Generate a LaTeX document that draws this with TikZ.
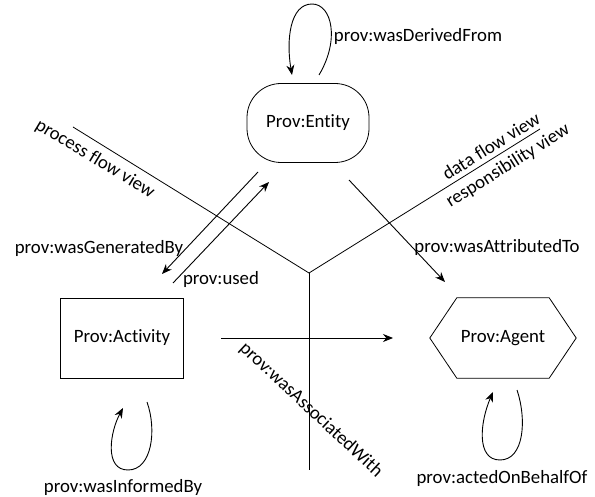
\documentclass[tikz,border=0pt]{standalone}
\usepackage{fontspec}
\setmainfont{Carlito}[Ligatures={NoCommon}]
\usetikzlibrary{arrows.meta,calc}
\begin{document}
\begin{tikzpicture}[x=1pt,y=-1pt,
  lbl/.style={font=\fontsize{18.8}{21}\selectfont, inner sep=0pt},
  arr/.style={line width=0.9pt,-{Stealth[length=10pt,width=8pt]}},
  ln/.style={line width=0.8pt},
  box/.style={draw, line width=0.8pt, lbl}]
\useasboundingbox (0,0) rectangle (595,497);
% nodes
\node[box, rounded corners=34pt, minimum width=122pt, minimum height=79pt] (entity) at (308,123) {Prov:Entity};
\node[box, minimum width=123pt, minimum height=80pt] (activity) at (122,338) {Prov:Activity};
\node[lbl, minimum width=146pt, minimum height=80pt] (agent) at (503,338) {Prov:Agent};
\draw[ln] (agent.west) -- ([xshift=27pt]agent.north west) -- ([xshift=-27pt]agent.north east)
  -- (agent.east) -- ([xshift=-27pt]agent.south east) -- ([xshift=27pt]agent.south west) -- cycle;
% view lines
\coordinate (j) at (309,273);
\coordinate (pf) at (73,127);
\coordinate (df) at (540,129);
\coordinate (vb) at (309,470);
\draw[ln] (pf) -- (j) -- (df);
\draw[ln] (j) -- (vb);
% arrows
\coordinate (gens) at (258,172); \coordinate (gene) at (162,274);
\coordinate (useds) at (173,283); \coordinate (usede) at (269,182);
\coordinate (attrs) at (349,180); \coordinate (attre) at (445,282);
\coordinate (assocs) at (221,338); \coordinate (assoce) at (393,338);
\draw[arr] (gens) -- (gene);
\draw[arr] (useds) -- (usede);
\draw[arr] (attrs) -- (attre);
\draw[arr] (assocs) -- (assoce);
% self loops
\coordinate (els) at (319,75); \coordinate (ele) at (292,75);
\draw[arr] (els) .. controls (340,40) and (332,4) .. (312,4) .. controls (290,4) and (286,40) .. (ele);
\coordinate (als) at (147,402); \coordinate (ale) at (123,408);
\draw[arr] (als) .. controls (157,430) and (152,470) .. (128,470) .. controls (104,470) and (110,432) .. (ale);
\coordinate (gls) at (517,390); \coordinate (gle) at (493,392);
\draw[arr] (gls) .. controls (527,420) and (524,460) .. (500,460) .. controls (476,460) and (480,422) .. (gle);
% labels
\node[lbl] (lderived) at (418,36) {prov:wasDerivedFrom};
\node[lbl, rotate=-31] (lprocess) at (95,159) {process flow view};
\node[lbl, rotate=32] (ldata) at (491,146) {data flow view};
\node[lbl, rotate=32] (lresp) at (508,166) {responsibility view};
\node[lbl] (lgen) at (99,248) {prov:wasGeneratedBy};
\node[lbl] (lused) at (221,279) {prov:used};
\node[lbl] (lattr) at (497,247) {prov:wasAttributedTo};
\node[lbl, rotate=-43] (lassoc) at (311,410) {prov:wasAssociatedWith};
\node[lbl] (linformed) at (123,487) {prov:wasInformedBy};
\node[lbl] (lacted) at (502,478) {prov:actedOnBehalfOf};
\end{tikzpicture}
\end{document}
